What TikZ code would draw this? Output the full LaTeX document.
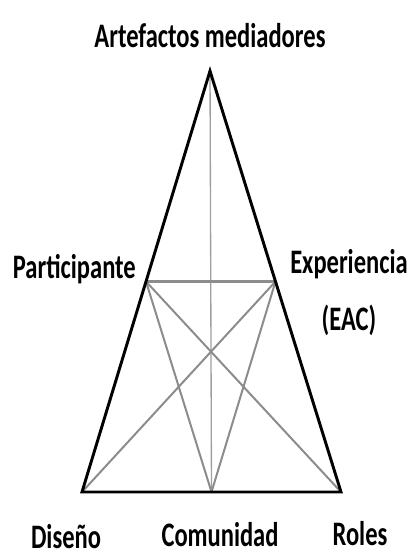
\documentclass[tikz,border=0pt]{standalone}
\usepackage{fontspec}
\setmainfont{Carlito}
\usepackage{tikz}

\begin{document}
\begin{tikzpicture}[x = 0.75pt, y = -0.75pt]
        \tikzset{side/.style={
            draw,
            line width = 2.2pt,
            black,
            line join = miter
        }}
        \tikzset{inner line/.style={
            draw,
            line width = 1.5pt,
            black!45
        }}
        \tikzset{tag/.style={
            font = \fontsize{18.4}{30.5}\selectfont\bfseries,
            yscale = 1.4,
            inner sep = 0pt,
            anchor = base
        }}
        \useasboundingbox (0, 0) rectangle (411, 555);

        % vertices of the triangle and midpoints
        \coordinate (art) at (210, 71);
        \coordinate (dis) at (82, 492);
        \coordinate (rol) at (341, 492);
        \coordinate (com) at (211.5, 492);
        \coordinate (par) at (146, 281.5);
        \coordinate (exp) at (275.5, 281.5);

        \begin{scope}
            \draw[inner line, line width = 1pt, black!38] (art) -- (com);
            \draw[inner line, line width = 1.8pt] (par) -- (exp);
            \draw[inner line] (par) -- (rol);
            \draw[inner line] (par) -- (com);
            \draw[inner line] (exp) -- (dis);
            \draw[inner line] (exp) -- (com);
            \draw[side] (art) -- (dis) -- (rol) -- cycle;
        \end{scope}

        \node[tag] (lart) at (210, 48) {Artefactos mediadores};
        \node[tag, anchor = base east] (lpar) at (136, 278) {Participante};
        \node[tag, anchor = base west, align = center] (lexp) at (290, 330) {Experiencia\\(EAC)};
        \node[tag] (ldis) at (66, 548) {Diseño};
        \node[tag] (lcom) at (220, 546) {Comunidad};
        \node[tag] (lrol) at (360, 545) {Roles};
    \end{tikzpicture}
\end{document}
